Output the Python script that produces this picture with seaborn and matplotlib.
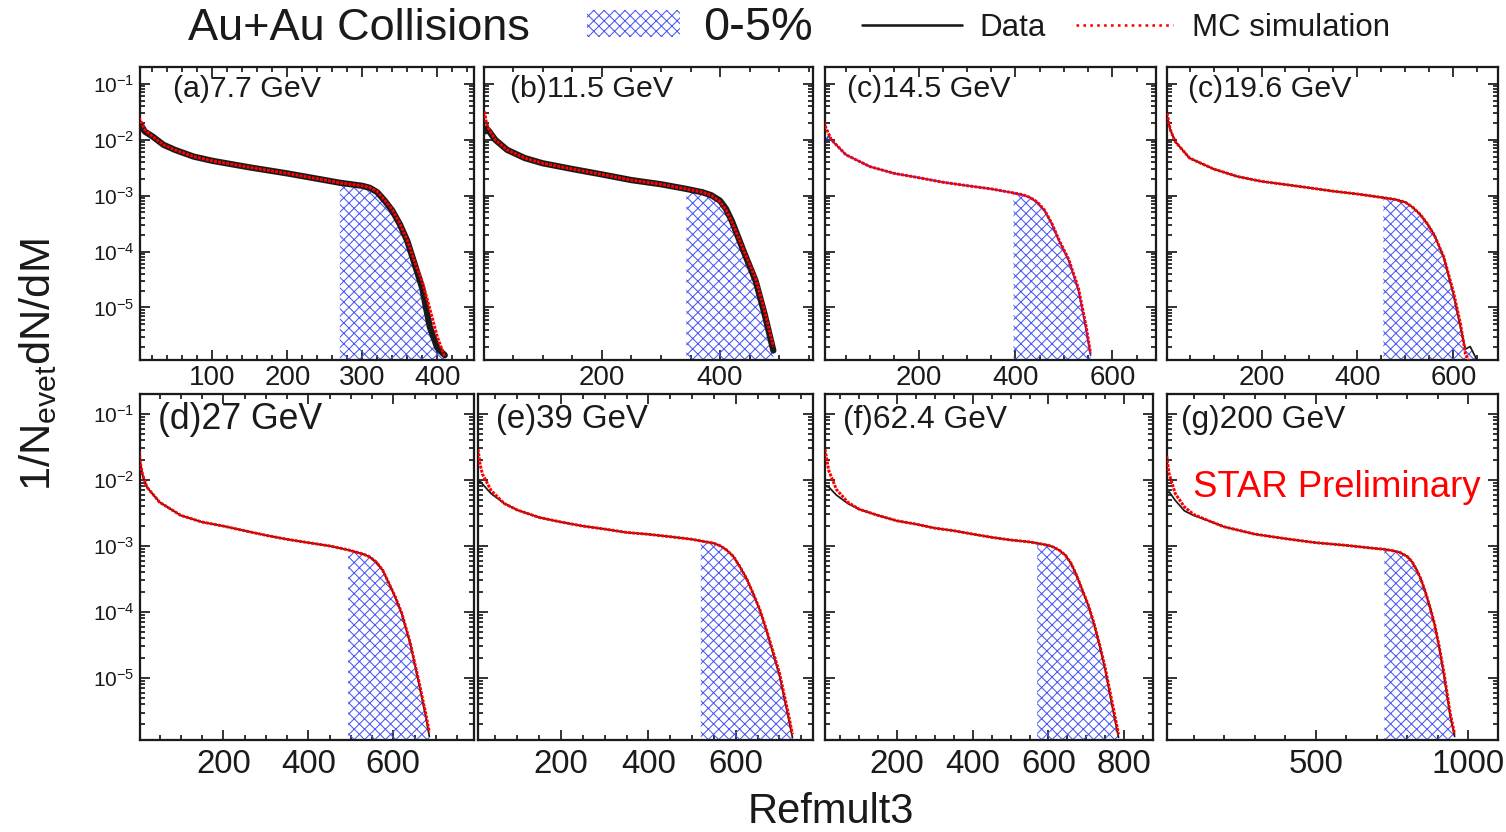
import numpy as np
import matplotlib
matplotlib.use("Agg")
import matplotlib.pyplot as plt
import seaborn as sns
from matplotlib.ticker import MultipleLocator, LogLocator, NullFormatter, FuncFormatter
from matplotlib.patches import Patch
from matplotlib.lines import Line2D

# ---------------- data ----------------
panel_labels = ["(a)7.7 GeV", "(b)11.5 GeV", "(c)14.5 GeV", "(c)19.6 GeV",
                "(d)27 GeV", "(e)39 GeV", "(f)62.4 GeV", "(g)200 GeV"]

x_77 = [2, 5, 10, 20, 35, 50, 75, 100, 150, 200, 250, 270, 300, 310, 320, 330, 340, 350, 360, 370, 380, 390, 400, 410]
data_77 = [0.015, 0.018, 0.014, 0.0115, 0.0081, 0.0066, 0.0050, 0.0042, 0.0032, 0.0025, 0.0019, 0.0017, 0.0015,
           0.00138, 0.00115, 8.1e-4, 5.4e-4, 3.1e-4, 1.55e-4, 5.9e-5, 2.2e-5, 4.5e-6, 1.9e-6, 1.4e-6]
mc_77 = [0.025, 0.021, 0.015, 0.0115, 0.0081, 0.0066, 0.0050, 0.0042, 0.0032, 0.0025, 0.0019, 0.0017, 0.0015,
         0.0014, 0.00118, 8.3e-4, 5.6e-4, 3.2e-4, 1.6e-4, 6.5e-5, 2.9e-5, 9.6e-6, 3.0e-6, 1.3e-6]

x_115 = [2, 5, 10, 20, 40, 70, 100, 150, 200, 250, 300, 343, 370, 385, 400, 410, 420, 440, 460, 475, 490]
data_115 = [0.014, 0.016, 0.014, 0.010, 0.0066, 0.0047, 0.0038, 0.0030, 0.0024, 0.0019, 0.0016, 0.00132,
            0.00115, 1.02e-3, 8.1e-4, 5.8e-4, 3.5e-4, 1.0e-4, 3.0e-5, 7.8e-6, 1.7e-6]
mc_115 = [0.032, 0.020, 0.015, 0.010, 0.0066, 0.0047, 0.0038, 0.0030, 0.0024, 0.0019, 0.0016, 0.00132,
          0.00115, 1.02e-3, 7.8e-4, 5.6e-4, 3.4e-4, 1.05e-4, 3.3e-5, 9.0e-6, 2.0e-6]

x_145 = [2, 8, 15, 20, 50, 100, 150, 200, 250, 300, 350, 396, 415, 430, 445, 460, 475, 490, 510, 530, 545, 555]
data_145 = [0.0038, 0.0095, 0.0118, 0.010, 0.0054, 0.0033, 0.0025, 0.0021, 0.00174, 0.00151, 0.00132, 0.00112,
            1.03e-3, 9.3e-4, 7.6e-4, 5.4e-4, 3.1e-4, 1.55e-4, 6.9e-5, 2.0e-5, 4.4e-6, 1.4e-6]
mc_145 = [0.0245, 0.017, 0.0125, 0.010, 0.0054, 0.0033, 0.0025, 0.0021, 0.00174, 0.00151, 0.00132, 0.00112,
          1.04e-3, 9.3e-4, 7.7e-4, 5.5e-4, 3.2e-4, 1.6e-4, 7.2e-5, 2.2e-5, 5.0e-6, 1.5e-6]

x_196 = [3, 10, 20, 50, 100, 150, 200, 250, 300, 350, 400, 454, 480, 500, 515, 530, 545, 560, 580, 600, 615,
         625, 635, 648]
data_196 = [0.026, 0.015, 0.0093, 0.0047, 0.0030, 0.0022, 0.0018, 0.00158, 0.00138, 0.0012, 0.00107, 9.2e-4,
            8.5e-4, 7.6e-4, 6.2e-4, 4.7e-4, 3.2e-4, 2.0e-4, 7.8e-5, 1.7e-5, 4.3e-6, 1.8e-6, 2.0e-6, 1.2e-6]
mc_196 = [0.030, 0.015, 0.0093, 0.0047, 0.0030, 0.0022, 0.0018, 0.00158, 0.00138, 0.0012, 0.00107, 9.2e-4,
          8.5e-4, 7.6e-4, 6.2e-4, 4.7e-4, 3.2e-4, 2.0e-4, 8.0e-5, 1.9e-5, 5.0e-6, 1.5e-6, 1.0e-6, 1.0e-6]

x_27 = [2, 5, 10, 20, 50, 100, 150, 200, 250, 300, 350, 400, 450, 494, 530, 545, 560, 575, 590, 605, 620, 640,
        660, 675, 685]
data_27 = [0.026, 0.0174, 0.012, 0.0078, 0.0046, 0.0029, 0.0023, 0.0020, 0.0017, 0.00145, 0.00126, 0.00112, 0.0010,
           8.7e-4, 7.5e-4, 6.8e-4, 5.7e-4, 4.3e-4, 2.7e-4, 1.65e-4, 9.4e-5, 3.3e-5, 8.4e-6, 2.9e-6, 1.3e-6]
mc_27 = [0.027, 0.0176, 0.012, 0.0078, 0.0046, 0.0029, 0.0023, 0.0020, 0.0017, 0.00145, 0.00126, 0.00112, 0.0010,
         8.7e-4, 7.5e-4, 6.8e-4, 5.7e-4, 4.3e-4, 2.7e-4, 1.68e-4, 9.6e-5, 3.4e-5, 9.0e-6, 3.2e-6, 1.5e-6]

x_39 = [10, 15, 20, 40, 70, 100, 150, 200, 250, 300, 350, 400, 450, 500, 520, 550, 565, 580, 595, 610, 625, 640,
        655, 670, 700, 720, 730]
data_39 = [0.0092, 0.0095, 0.0087, 0.0062, 0.0044, 0.0035, 0.0027, 0.0023, 0.0020, 0.0018, 0.0016, 0.0015,
           0.00138, 0.00126, 0.00119, 0.0011, 1.0e-3, 8.6e-4, 6.9e-4, 4.8e-4, 3.2e-4, 1.9e-4, 1.07e-4, 5.3e-5,
           1.1e-5, 2.6e-6, 1.25e-6]
mc_39 = [0.029, 0.017, 0.0123, 0.0069, 0.0044, 0.0035, 0.0027, 0.0023, 0.0020, 0.0018, 0.0016, 0.0015,
         0.00138, 0.00126, 0.00119, 0.0011, 1.0e-3, 8.6e-4, 6.9e-4, 4.8e-4, 3.2e-4, 1.9e-4, 1.1e-4, 5.5e-5,
         1.2e-5, 3.0e-6, 1.4e-6]

x_624 = [10, 20, 40, 70, 100, 150, 200, 250, 300, 350, 400, 450, 500, 550, 570, 600, 615, 630, 645, 660, 675, 690,
         705, 720, 735, 750, 770, 785]
data_624 = [0.0081, 0.0078, 0.0059, 0.0044, 0.0036, 0.0029, 0.0024, 0.00214, 0.00186, 0.0017, 0.00151, 0.00135,
            0.00123, 0.00115, 0.0011, 0.00102, 9.5e-4, 8.5e-4, 7.2e-4, 5.4e-4, 3.5e-4, 2.1e-4, 1.26e-4, 6.6e-5,
            3.1e-5, 1.3e-5, 3.3e-6, 1.26e-6]
mc_624 = [0.029, 0.0138, 0.0072, 0.0046, 0.0036, 0.0029, 0.0024, 0.00214, 0.00186, 0.0017, 0.00151, 0.00135,
          0.00123, 0.00115, 0.0011, 0.00102, 9.5e-4, 8.5e-4, 7.2e-4, 5.4e-4, 3.5e-4, 2.1e-4, 1.28e-4, 6.8e-5,
          3.2e-5, 1.4e-5, 3.8e-6, 1.4e-6]

x_200 = [12, 20, 40, 70, 100, 150, 200, 300, 400, 500, 600, 700, 725, 750, 775, 800, 815, 830, 845, 860, 875, 890,
         905, 920, 940, 955]
data_200 = [0.0062, 0.0066, 0.0049, 0.0034, 0.0029, 0.0024, 0.00195, 0.00151, 0.00129, 0.00112, 0.00102, 9.1e-4,
            8.9e-4, 8.5e-4, 8.0e-4, 6.9e-4, 5.8e-4, 4.4e-4, 3.1e-4, 1.95e-4, 1.15e-4, 6.2e-5, 2.8e-5, 1.1e-5,
            2.75e-6, 1.3e-6]
mc_200 = [0.023, 0.0123, 0.0062, 0.0039, 0.0030, 0.0024, 0.00195, 0.00151, 0.00129, 0.00112, 0.00102, 9.1e-4,
          8.9e-4, 8.5e-4, 8.0e-4, 6.9e-4, 5.8e-4, 4.4e-4, 3.1e-4, 1.95e-4, 1.15e-4, 6.4e-5, 2.9e-5, 1.2e-5,
          3.0e-6, 1.4e-6]

cuts_0_5 = [270, 343, 396, 454, 494, 520, 570, 725]   # 0-5% centrality cut positions

all_x = [x_77, x_115, x_145, x_196, x_27, x_39, x_624, x_200]
all_data = [data_77, data_115, data_145, data_196, data_27, data_39, data_624, data_200]
all_mc = [mc_77, mc_115, mc_145, mc_196, mc_27, mc_39, mc_624, mc_200]

# ---------------- layout / style ----------------
W, H, DPI = 1506, 832, 125
x_limits = [(3.5, 449), (1, 557), (7, 690), (3, 693), (4, 790), (10, 777), (10, 876), (13, 1097)]
x_major = [100, 200, 200, 200, 200, 200, 200, 500]
x_minor = [20, 50, 50, 50, 50, 50, 50, 100]
boxes_px = [(140, 474, 67, 360), (484, 813, 67, 360), (825, 1156, 67, 360), (1167, 1498, 67, 360),
            (140, 474, 394, 740), (478, 813, 394, 740), (825, 1153, 394, 740), (1167, 1498, 394, 740)]
label_dx = [0.099, 0.079, 0.066, 0.063, 0.054, 0.054, 0.055, 0.042]
label_fs = [17.5, 17.5, 17.5, 17.5, 20.5, 19, 18.3, 18.3]
data_color = ["k", "k", "#2233dd", "k", "k", "k", "k", "k"]
hatch_col = "#4a5af2"
Y_LIM = (1.15e-6, 0.2)

sns.set_theme(style="ticks")
plt.rcParams["font.family"] = ["Liberation Sans", "DejaVu Sans"]
plt.rcParams["mathtext.fontset"] = "custom"
plt.rcParams["mathtext.rm"] = "Liberation Sans"
plt.rcParams["mathtext.it"] = "Liberation Sans:italic"
plt.rcParams["mathtext.bf"] = "Liberation Sans:bold"
plt.rcParams["hatch.linewidth"] = 0.6
plt.rcParams["text.color"] = "black"
plt.rcParams["xtick.color"] = "black"
plt.rcParams["ytick.color"] = "black"
plt.rcParams["xtick.labelcolor"] = "black"
plt.rcParams["ytick.labelcolor"] = "black"

fig = plt.figure(figsize=(W / DPI, H / DPI), dpi=DPI)


def log_fmt(v, pos):
    e = int(round(np.log10(v)))
    return r"$10^{%d}$" % e


for i in range(8):
    l, r, t, b = boxes_px[i]
    ax = fig.add_axes([l / W, 1 - b / H, (r - l) / W, (b - t) / H])
    xs = np.array(all_x[i], dtype=float)
    yd = np.array(all_data[i], dtype=float)
    ym = np.array(all_mc[i], dtype=float)
    ax.set_yscale("log")
    ax.set_xlim(*x_limits[i])
    ax.set_ylim(*Y_LIM)

    # 0-5% hatched region under data
    m = xs >= cuts_0_5[i]
    ax.fill_between(xs[m], yd[m], ax.get_ylim()[0], facecolor="none", edgecolor=hatch_col,
                    hatch="xxxx", linewidth=0, zorder=1)

    if i < 2:
        sns.lineplot(x=xs, y=yd, ax=ax, color="k", lw=3.6, estimator=None, sort=False, zorder=2)
    else:
        sns.lineplot(x=xs, y=yd, ax=ax, color=data_color[i], lw=1.0, estimator=None, sort=False, zorder=2)
    sns.lineplot(x=xs, y=ym, ax=ax, color="red", lw=1.7, ls=(0, (1, 0.4)), estimator=None, sort=False, zorder=3)

    # axes style (ROOT-like)
    for s in ax.spines.values():
        s.set_linewidth(1.3)
        s.set_color("k")
        s.set_visible(True)
    ax.xaxis.set_major_locator(MultipleLocator(x_major[i]))
    ax.xaxis.set_minor_locator(MultipleLocator(x_minor[i]))
    ax.yaxis.set_major_locator(LogLocator(base=10, numticks=20))
    ax.yaxis.set_minor_locator(LogLocator(base=10, subs=np.arange(2, 10), numticks=40))
    ax.yaxis.set_minor_formatter(NullFormatter())
    fs_tick = 16 if i < 4 else 19
    ax.tick_params(which="both", direction="in", top=True, right=True, color="k", width=1.0,
                   labelcolor="k")
    ax.tick_params(which="major", length=6)
    ax.tick_params(which="minor", length=3)
    ax.tick_params(axis="x", labelsize=fs_tick, pad=3 if i < 4 else 5)
    if i % 4 == 0:
        ax.yaxis.set_major_formatter(FuncFormatter(log_fmt))
        ax.tick_params(axis="y", labelsize=12, pad=3)
    else:
        ax.yaxis.set_major_formatter(NullFormatter())
    ax.set_xlabel("")
    ax.set_ylabel("")
    ax.grid(False)
    ax.text(label_dx[i], 0.925, panel_labels[i], transform=ax.transAxes, fontsize=label_fs[i],
            ha="left", va="center", color="k")
    if i == 7:
        ax.text(0.079, 0.731, "STAR Preliminary", transform=ax.transAxes, fontsize=21,
                color="red", ha="left", va="center")

# global labels
fig.text(38 / W, 1 - 365 / H, r"1/N$_{\rm evet}$dN/dM", rotation=90, fontsize=25,
         ha="center", va="center", color="k")
fig.text(831 / W, 1 - 812 / H, "Refmult3", fontsize=24, ha="center", va="center", color="k")

# top legend
yl = 1 - 28 / H
fig.text(188 / W, yl, "Au+Au Collisions", fontsize=26, ha="left", va="center", color="k")
fig.legend(handles=[Patch(facecolor="none", edgecolor=hatch_col, hatch="xxxx", linewidth=0)],
           labels=["0-5%"], loc="center left", bbox_to_anchor=(587 / W, yl), frameon=False,
           fontsize=27, handlelength=1.98, handleheight=0.5, handletextpad=0.5,
           borderpad=0, borderaxespad=0, labelcolor="k")
fig.legend(handles=[Line2D([], [], color="k", lw=1.5)], labels=["Data"], loc="center left",
           bbox_to_anchor=(862 / W, yl), frameon=False, fontsize=18, handlelength=3.2,
           handletextpad=0.55, borderpad=0, borderaxespad=0, labelcolor="k")
fig.legend(handles=[Line2D([], [], color="red", lw=1.5, ls=":")], labels=["MC simulation"],
           loc="center left", bbox_to_anchor=(1076 / W, yl), frameon=False, fontsize=18,
           handlelength=3.1, handletextpad=0.6, borderpad=0, borderaxespad=0, labelcolor="k")

fig.savefig("out.png", dpi=DPI)
